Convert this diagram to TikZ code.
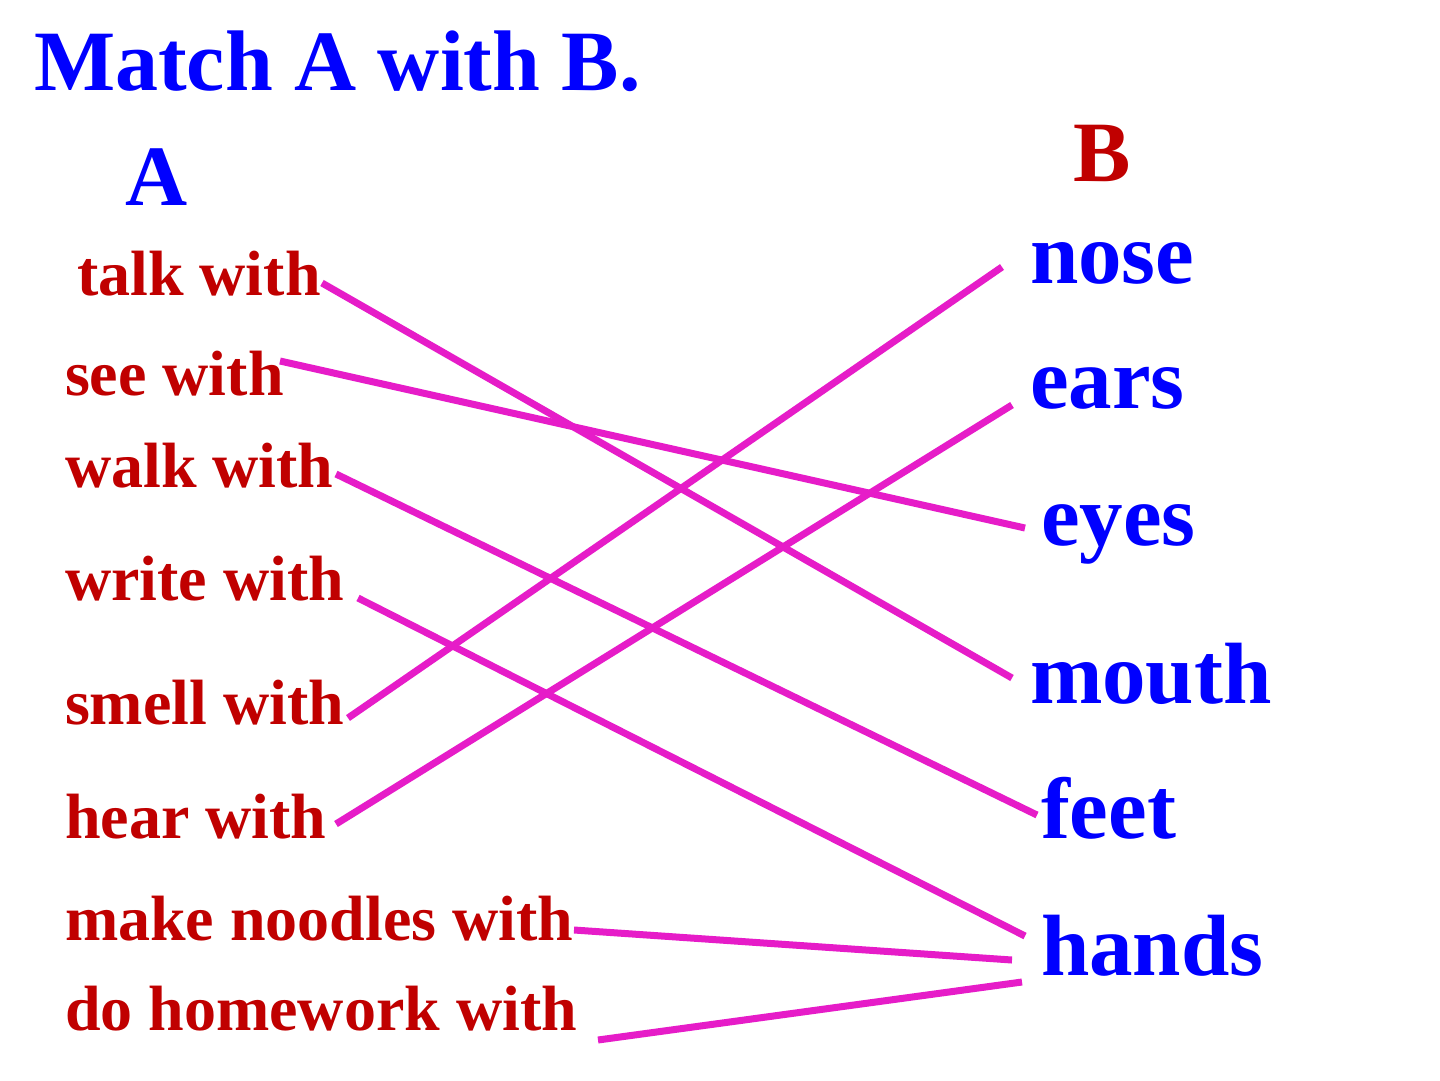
\documentclass[tikz,border=0pt]{standalone}
\usepackage{fontspec}
\setmainfont{Liberation Serif}
\definecolor{tblue}{RGB}{0,0,255}
\definecolor{tred}{RGB}{192,0,0}
\definecolor{tmag}{RGB}{230,28,200}
\begin{document}
\begin{tikzpicture}[x=1pt,y=-1pt,
  lbl/.style={anchor=base west,inner sep=0pt,outer sep=0pt,font=\bfseries\fontsize{64}{64}\selectfont,text=tred},
  word/.style={anchor=base west,inner sep=0pt,outer sep=0pt,font=\bfseries\fontsize{87}{87}\selectfont,text=tblue},
  head/.style={anchor=base west,inner sep=0pt,outer sep=0pt,font=\bfseries\fontsize{86}{86}\selectfont},
  link/.style={draw=tmag,line width=7pt}]
\fill[white] (0,0) rectangle (1440,1080);
\useasboundingbox (0,0) rectangle (1440,1080);
% title and headings
\node[head,text=tblue] (title) at (34,90) {Match A with B.};
\node[head,text=tblue] (hA) at (125,205) {A};
\node[head,text=tred] (hB) at (1073,181) {B};
% column A
\node[lbl] (talk) at (77,295) {talk with};
\node[lbl] (see) at (65,395) {see with};
\node[lbl] (walk) at (65,487) {walk with};
\node[lbl] (write) at (65,600) {write with};
\node[lbl] (smell) at (65,724) {smell with};
\node[lbl] (hear) at (65,838) {hear with};
\node[lbl] (noodles) at (65,940) {make noodles with};
\node[lbl] (homework) at (65,1030) {do homework with};
% column B
\node[word] (nose) at (1030,283) {nose};
\node[word] (ears) at (1030,408) {ears};
\node[word] (eyes) at (1041,545) {eyes};
\node[word] (mouth) at (1030,703) {mouth};
\node[word] (feet) at (1041,838) {feet};
\node[word] (hands) at (1041,975) {hands};
% connector ends
\coordinate (talkE) at (322,283);
\coordinate (seeE) at (280,361);
\coordinate (walkE) at (336,474);
\coordinate (writeE) at (358,598);
\coordinate (smellE) at (348,718);
\coordinate (hearE) at (336,824);
\coordinate (noodlesE) at (574,930);
\coordinate (homeworkE) at (598,1040);
\coordinate (noseE) at (1002,267);
\coordinate (earsE) at (1012,405);
\coordinate (eyesE) at (1025,528);
\coordinate (mouthE) at (1012,678);
\coordinate (feetE) at (1037,815);
\coordinate (handsE1) at (1025,936);
\coordinate (handsE2) at (1012,960);
\coordinate (handsE3) at (1022,982);
% connectors
\draw[link] (talkE) -- (mouthE);
\draw[link] (seeE) -- (eyesE);
\draw[link] (walkE) -- (feetE);
\draw[link] (writeE) -- (handsE1);
\draw[link] (smellE) -- (noseE);
\draw[link] (hearE) -- (earsE);
\draw[link] (noodlesE) -- (handsE2);
\draw[link] (homeworkE) -- (handsE3);
\end{tikzpicture}
\end{document}
